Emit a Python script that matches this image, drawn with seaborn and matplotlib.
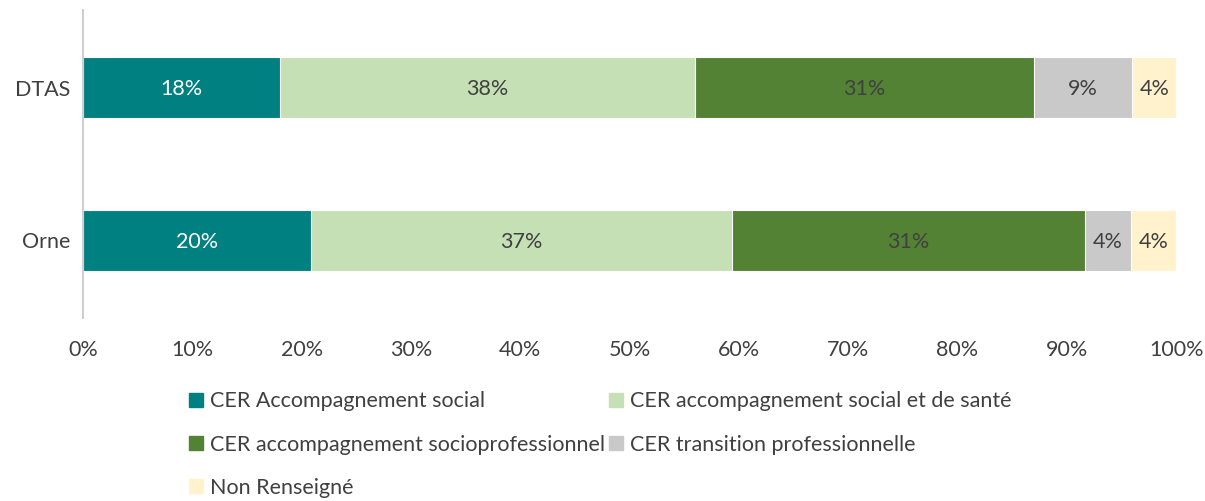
import matplotlib.pyplot as plt
import matplotlib.patches as mpatches
import seaborn as sns
import pandas as pd
import numpy as np

territories = ["DTAS", "Orne"]
series = [
    "CER Accompagnement social",
    "CER accompagnement social et de santé",
    "CER accompagnement socioprofessionnel",
    "CER transition professionnelle",
    "Non Renseigné",
]
values = {
    "DTAS": [18, 38, 31, 9, 4],
    "Orne": [20, 37, 31, 4, 4],
}
colors = ["#008080", "#C5E0B4", "#548235", "#C9C9C9", "#FFF2CC"]
label_colors = ["white", "#404040", "#404040", "#404040", "#404040"]

sns.set_style("white")
plt.rcParams["font.family"] = ["Lato", "DejaVu Sans"]
FS = 15.5

# 100% stacked: normalise the shown values per territory
raw = np.array([values[t] for t in territories], dtype=float)
shares = raw / raw.sum(axis=1, keepdims=True) * 100
cum = shares.cumsum(axis=1)

fig, ax = plt.subplots(figsize=(12.05, 5.01), dpi=100)
fig.subplots_adjust(left=0.069, right=0.976, top=0.98, bottom=0.365)

# draw from the longest cumulative bar down so each segment shows
for i in reversed(range(len(series))):
    df = pd.DataFrame({"territory": territories, "end": cum[:, i]})
    sns.barplot(data=df, x="end", y="territory", color=colors[i], width=0.4,
                edgecolor="white", linewidth=0.8, saturation=1, ax=ax)

for r, t in enumerate(territories):
    for i in range(len(series)):
        mid = cum[r, i] - shares[r, i] / 2
        ax.text(mid, r + 0.01, f"{values[t][i]}%", ha="center", va="center",
                fontsize=FS, color=label_colors[i])

ax.set_xlim(0, 100)
ax.set_ylim(1.51, -0.51)
ax.set_xticks(range(0, 101, 10))
ax.set_xticklabels([f"{x}%" for x in range(0, 101, 10)])
ax.tick_params(axis="both", labelsize=FS, labelcolor="#404040", length=0)
ax.tick_params(axis="y", pad=9)
ax.tick_params(axis="x", pad=16)
ax.set_xlabel("")
ax.set_ylabel("")
for s in ["top", "right", "bottom"]:
    ax.spines[s].set_visible(False)
ax.spines["left"].set_color("#D0D0D0")
ax.spines["left"].set_linewidth(1.5)

handles = [mpatches.Patch(color=c, label=s) for s, c in zip(series, colors)]
order = [0, 2, 4, 1, 3]
leg = fig.legend([handles[k] for k in order], [series[k] for k in order],
                 ncol=2, loc="upper left", bbox_to_anchor=(0.150, 0.236),
                 frameon=False, fontsize=FS, handlelength=0.65, handleheight=0.65,
                 handletextpad=0.3, columnspacing=0.2, labelspacing=1.08,
                 borderaxespad=0)
for txt in leg.get_texts():
    txt.set_color("#404040")

fig.savefig("out.png", dpi=100)
